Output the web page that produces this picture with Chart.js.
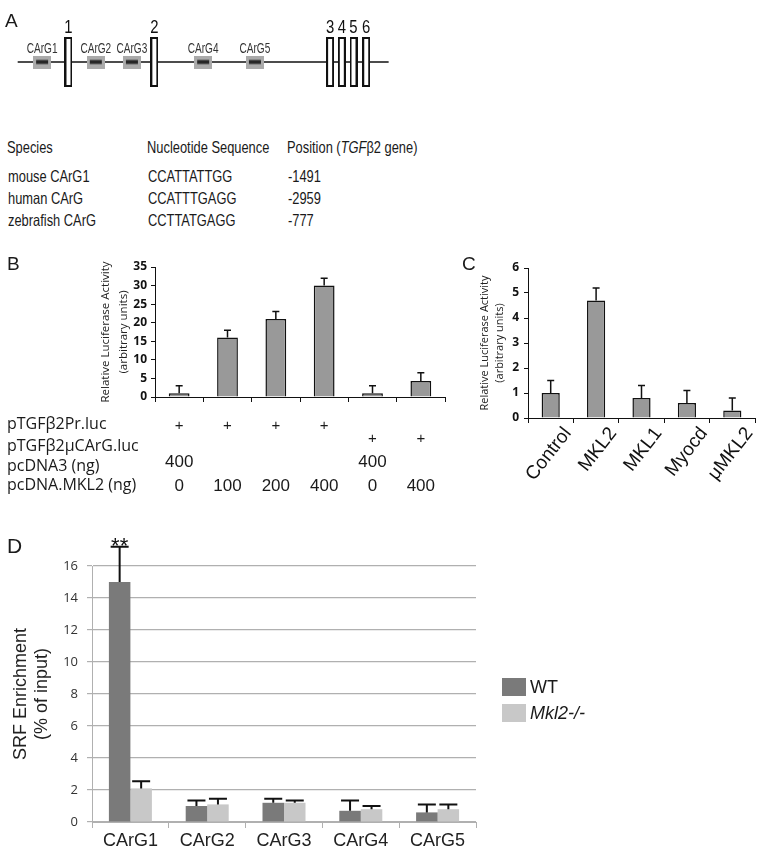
<!DOCTYPE html>
<html>
<head>
<meta charset="utf-8">
<title>TGFb2 CArG figure</title>
<script src="https://cdn.jsdelivr.net/npm/chart.js@4.4.1/dist/chart.umd.min.js"></script>
<style>
  body { margin: 0; background: #fff; }
  #page { position: relative; width: 764px; height: 849px; overflow: hidden; font-family: 'Liberation Sans', Arial, sans-serif; color: #1a1a1a; }
  canvas { position: absolute; }
  .panel { position: absolute; line-height: 1; }
  .narrow { position: absolute; line-height: 1; white-space: nowrap; font-size: 16.5px; transform: scaleX(0.78); transform-origin: 0 0; }
</style>
</head>
<body>
<div id="page">
  <canvas id="geneMap" width="420" height="124" style="left:0;top:0"></canvas>
  <canvas id="chartB" width="460" height="250" style="left:0;top:250px"></canvas>
  <canvas id="chartC" width="294" height="260" style="left:470px;top:250px"></canvas>
  <canvas id="chartD" width="764" height="329" style="left:0;top:520px"></canvas>
  <div id="table"></div>
  <div class="panel" style="left:5px;top:10.5px;font-size:19px">A</div>
  <div class="panel" style="left:7px;top:253.5px;font-size:19px">B</div>
  <div class="panel" style="left:462px;top:253.5px;font-size:19px">C</div>
  <div class="panel" style="left:7px;top:535px;font-size:21px">D</div>
</div>
<script>
'use strict'

// A: gene map, positions (map units)
const geneSpan = [13, 393];
const exonNames = ['1', '2', '3', '4', '5', '6'];
const exonPos = [65, 153, 333, 345, 357, 370];
const cargNames = ['CArG1', 'CArG2', 'CArG3', 'CArG4', 'CArG5'];
const cargPos = [38, 93, 130, 203, 256];

// A: conservation table
const species = ['mouse CArG1', 'human CArG', 'zebrafish CArG'];
const sequences = ['CCATTATTGG', 'CCATTTGAGG', 'CCTTATGAGG'];
const positions = ['-1491', '-2959', '-777'];

// B: promoter luciferase
const bRowNames = ['pTGFβ2Pr.luc', 'pTGFβ2μCArG.luc', 'pcDNA3 (ng)', 'pcDNA.MKL2 (ng)'];
const bPrLuc = ['+', '+', '+', '+', '', ''];
const bMutLuc = ['', '', '', '', '+', '+'];
const bPcdna3 = ['400', '', '', '', '400', ''];
const bMkl2 = ['0', '100', '200', '400', '0', '400'];
const bValues = [1, 16, 21, 30, 1, 4.3];
const bErrors = [2, 2, 2, 2, 2, 2.2];

// C: co-activators
const cLabels = ['Control', 'MKL2', 'MKL1', 'Myocd', 'μMKL2'];
const cValues = [1.0, 4.7, 0.8, 0.6, 0.3];
const cErrors = [0.5, 0.5, 0.5, 0.5, 0.5];

// D: ChIP
const dLabels = ['CArG1', 'CArG2', 'CArG3', 'CArG4', 'CArG5'];
const wtValues = [15, 1.0, 1.2, 0.7, 0.6];
const wtErrors = [2.2, 0.35, 0.25, 0.65, 0.5];
const koValues = [2.1, 1.1, 1.2, 0.8, 0.8];
const koErrors = [0.45, 0.35, 0.15, 0.2, 0.3];
const dStars = ['**', '', '', '', ''];

const ink = '#1a1a1a';

// upward error bars, plus optional significance stars
const errorBars = {
  id: 'errorBars',
  defaults: { cap: 7, width: 1.5, color: '#111' },
  afterDatasetsDraw(chart, args, opts) {
    const ctx = chart.ctx;
    const y = chart.scales.y;
    chart.data.datasets.forEach((ds, di) => {
      if (!ds.errors) return;
      chart.getDatasetMeta(di).data.forEach((bar, i) => {
        const top = y.getPixelForValue(ds.data[i] + ds.errors[i]);
        ctx.save();
        ctx.strokeStyle = opts.color;
        ctx.lineWidth = opts.width;
        ctx.beginPath();
        ctx.moveTo(bar.x, bar.y);
        ctx.lineTo(bar.x, top);
        ctx.moveTo(bar.x - opts.cap / 2, top);
        ctx.lineTo(bar.x + opts.cap / 2, top);
        ctx.stroke();
        if (ds.stars && ds.stars[i]) {
          ctx.fillStyle = opts.color;
          ctx.font = '22px "Liberation Sans"';
          ctx.textAlign = 'center';
          ctx.fillText(ds.stars[i], bar.x, top + 6.5);
        }
        ctx.restore();
      });
    });
  }
};

// A labels over exons and CArG boxes
const mapLabels = {
  id: 'mapLabels',
  afterDatasetsDraw(chart) {
    const ctx = chart.ctx;
    const x = chart.scales.x;
    function squeezed(txt, px, base, font, k, color) {
      ctx.save();
      ctx.translate(px, base);
      ctx.scale(k, 1);
      ctx.font = font;
      ctx.fillStyle = color;
      ctx.textAlign = 'center';
      ctx.fillText(txt, 0, 0);
      ctx.restore();
    }
    exonNames.forEach((n, i) => squeezed(n, x.getPixelForValue(exonPos[i]), 33, '17.5px "Liberation Sans"', 0.85, '#111'));
    cargNames.forEach((n, i) => squeezed(n, x.getPixelForValue(cargPos[i]), 52.5, '14px "Liberation Sans"', 0.72, '#333'));
  }
};

// B: the lane table under the bars, one column per category
const laneTable = {
  id: 'laneTable',
  afterDraw(chart, args, opts) {
    const ctx = chart.ctx;
    const x = chart.scales.x;
    ctx.save();
    ctx.fillStyle = ink;
    ctx.textAlign = 'left';
    ctx.font = '16px "Open Sans"';
    opts.names.forEach((n, i) => ctx.fillText(n, 7, opts.nameBase[i]));
    ctx.textAlign = 'center';
    opts.cells.forEach((row, r) => {
      ctx.font = opts.cellFont[r];
      row.forEach((v, j) => {
        if (v) ctx.fillText(v, x.getPixelForValue(j), opts.cellBase[r]);
      });
    });
    ctx.restore();
  }
};

// D: legend to the right of the plot
const sideLegend = {
  id: 'sideLegend',
  afterDraw(chart, args, opts) {
    const ctx = chart.ctx;
    const area = chart.chartArea;
    const mid = (area.top + area.bottom) / 2;
    chart.data.datasets.forEach((ds, i) => {
      const top = mid - 16 + i * 26;
      const left = area.right + 26;
      ctx.save();
      ctx.fillStyle = ds.backgroundColor;
      ctx.fillRect(left, top, 24, 18);
      ctx.fillStyle = ink;
      ctx.font = (opts.italic[i] ? 'italic ' : '') + '18px "Liberation Sans"';
      ctx.textBaseline = 'middle';
      ctx.fillText(ds.label, left + 28, top + 10);
      ctx.restore();
    });
  }
};

function exonSprite() {
  const c = document.createElement('canvas');
  c.width = 8; c.height = 50;
  const g = c.getContext('2d');
  g.fillStyle = '#fff';
  g.fillRect(0, 0, 8, 50);
  g.strokeStyle = '#111';
  g.lineWidth = 2;
  g.strokeRect(1, 1, 6, 48);
  return c;
}

function cargSprite() {
  const c = document.createElement('canvas');
  c.width = 18; c.height = 13;
  const g = c.getContext('2d');
  g.fillStyle = '#aaaaaa';
  g.fillRect(0, 0, 18, 13);
  g.fillStyle = '#262626';
  g.fillRect(3, 4.5, 12, 4);
  return c;
}

new Chart(document.getElementById('geneMap'), {
  type: 'scatter',
  data: {
    datasets: [
      { data: exonPos.map(p => ({ x: p, y: 0 })), pointStyle: exonSprite(), pointRadius: 4, order: 1 },
      { data: cargPos.map(p => ({ x: p, y: 0 })), pointStyle: cargSprite(), pointRadius: 4, order: 2 },
      { data: geneSpan.map(p => ({ x: p, y: 0 })), showLine: true, pointRadius: 0, borderColor: '#111', borderWidth: 1.6, order: 3 }
    ]
  },
  options: {
    responsive: false,
    animation: false,
    events: [],
    layout: { padding: 0 },
    plugins: { legend: { display: false }, tooltip: { enabled: false } },
    scales: {
      x: { type: 'linear', min: 0, max: 420, display: false },
      y: { min: -1, max: 1, display: false }
    }
  },
  plugins: [mapLabels]
});

// A table as text
const tableEl = document.getElementById('table');
function put(html, left, top) {
  const d = document.createElement('div');
  d.className = 'narrow';
  d.style.left = left + 'px';
  d.style.top = top + 'px';
  d.innerHTML = html;
  tableEl.appendChild(d);
}
put('Species', 7, 139.3);
put('Nucleotide Sequence', 147, 139.3);
put('Position (<i>TGF</i>β2 gene)', 287, 139.3);
species.forEach((s, i) => {
  const top = 167.7 + i * 22.2;
  put(s, 7.5, top);
  put(sequences[i], 148, top);
  put(positions[i], 288, top);
});

const tickFont = { family: 'Open Sans', size: 12, weight: 'bold' };

new Chart(document.getElementById('chartB'), {
  type: 'bar',
  data: {
    labels: bMkl2.map((v, i) => 'lane ' + (i + 1)),
    datasets: [{
      data: bValues, errors: bErrors,
      backgroundColor: '#999999', borderColor: '#111', borderWidth: 1.5,
      categoryPercentage: 1, barPercentage: 0.43
    }]
  },
  options: {
    responsive: false,
    animation: false,
    events: [],
    layout: { padding: { left: 90, top: 17, right: 15, bottom: 90 } },
    plugins: {
      legend: { display: false },
      tooltip: { enabled: false },
      errorBars: { cap: 7, width: 1.5 },
      laneTable: {
        names: bRowNames,
        nameBase: [179, 201, 221, 240],
        cells: [bPrLuc, bMutLuc, bPcdna3, bMkl2],
        cellBase: [180, 192.5, 217, 240.5],
        cellFont: ['15px "Liberation Sans"', '15px "Liberation Sans"', '17px "Liberation Sans"', '17px "Liberation Sans"']
      }
    },
    scales: {
      x: {
        grid: { drawOnChartArea: false, tickLength: 5, color: '#111' },
        border: { color: '#111' },
        ticks: { display: false },
        afterFit: s => { s.height = 13; }
      },
      y: {
        min: 0, max: 35,
        ticks: { stepSize: 5, font: tickFont, color: '#111', padding: 4 },
        grid: { drawOnChartArea: false, tickLength: 4, color: '#111' },
        border: { color: '#111' },
        title: {
          display: true,
          text: ['Relative Luciferase Activity', '(arbitrary units)'],
          font: { family: 'Open Sans', size: 11.5, lineHeight: 18 / 11.5 },
          color: '#222',
          padding: { top: 7, bottom: 0 }
        },
        afterFit: s => { s.width = 65; }
      }
    }
  },
  plugins: [errorBars, laneTable]
});

new Chart(document.getElementById('chartC'), {
  type: 'bar',
  data: {
    labels: cLabels,
    datasets: [{
      data: cValues, errors: cErrors,
      backgroundColor: '#999999', borderColor: '#111', borderWidth: 1.5,
      categoryPercentage: 1, barPercentage: 0.4
    }]
  },
  options: {
    responsive: false,
    animation: false,
    events: [],
    layout: { padding: { left: 0, top: 18, right: 9, bottom: 0 } },
    plugins: {
      legend: { display: false },
      tooltip: { enabled: false },
      errorBars: { cap: 7, width: 1.5 }
    },
    scales: {
      x: {
        grid: { drawOnChartArea: false, tickLength: 5, color: '#111' },
        border: { color: '#111' },
        ticks: { font: { family: 'Liberation Sans', size: 19 }, color: '#111', minRotation: 52, maxRotation: 52, autoSkip: false, padding: 0, labelOffset: 17 },
        afterFit: s => { s.height = 92; }
      },
      y: {
        min: 0, max: 6,
        ticks: { stepSize: 1, font: tickFont, color: '#111', padding: 5 },
        grid: { drawOnChartArea: false, tickLength: 4, color: '#111' },
        border: { color: '#111' },
        title: {
          display: true,
          text: ['Relative Luciferase Activity', '(arbitrary units)'],
          font: { family: 'Open Sans', size: 11, lineHeight: 15 / 11 },
          color: '#222',
          padding: { top: 7.5, bottom: 0 }
        },
        afterFit: s => { s.width = 58; }
      }
    }
  },
  plugins: [errorBars]
});

new Chart(document.getElementById('chartD'), {
  type: 'bar',
  data: {
    labels: dLabels,
    datasets: [
      { label: 'WT', data: wtValues, errors: wtErrors, stars: dStars, backgroundColor: '#7a7a7a' },
      { label: 'Mkl2-/-', data: koValues, errors: koErrors, backgroundColor: '#c8c8c8' }
    ]
  },
  options: {
    responsive: false,
    animation: false,
    events: [],
    datasets: { bar: { categoryPercentage: 0.56, barPercentage: 1 } },
    layout: { padding: { left: 0, top: 46, right: 288, bottom: 0 } },
    plugins: {
      legend: { display: false },
      tooltip: { enabled: false },
      errorBars: { cap: 18, width: 2, color: '#111' },
      sideLegend: { italic: [false, true] }
    },
    scales: {
      x: {
        grid: { drawOnChartArea: false, tickLength: 6, color: '#b0b0b0' },
        border: { color: '#b0b0b0' },
        ticks: { font: { family: 'Liberation Sans', size: 18 }, color: '#222', padding: 2 },
        afterFit: s => { s.height = 27; }
      },
      y: {
        min: 0, max: 16,
        ticks: { stepSize: 2, font: { family: 'Open Sans', size: 13 }, color: '#333', padding: 9 },
        grid: { color: '#b0b0b0', tickLength: 5, lineWidth: 1.2 },
        border: { color: '#b0b0b0' },
        title: {
          display: true,
          text: ['SRF Enrichment', '(% of input)'],
          font: { family: 'Liberation Sans', size: 18, lineHeight: 21 / 18 },
          color: '#222',
          padding: { top: 11, bottom: 0 }
        },
        afterFit: s => { s.width = 92; }
      }
    }
  },
  plugins: [errorBars, sideLegend]
});
</script>
</body>
</html>
